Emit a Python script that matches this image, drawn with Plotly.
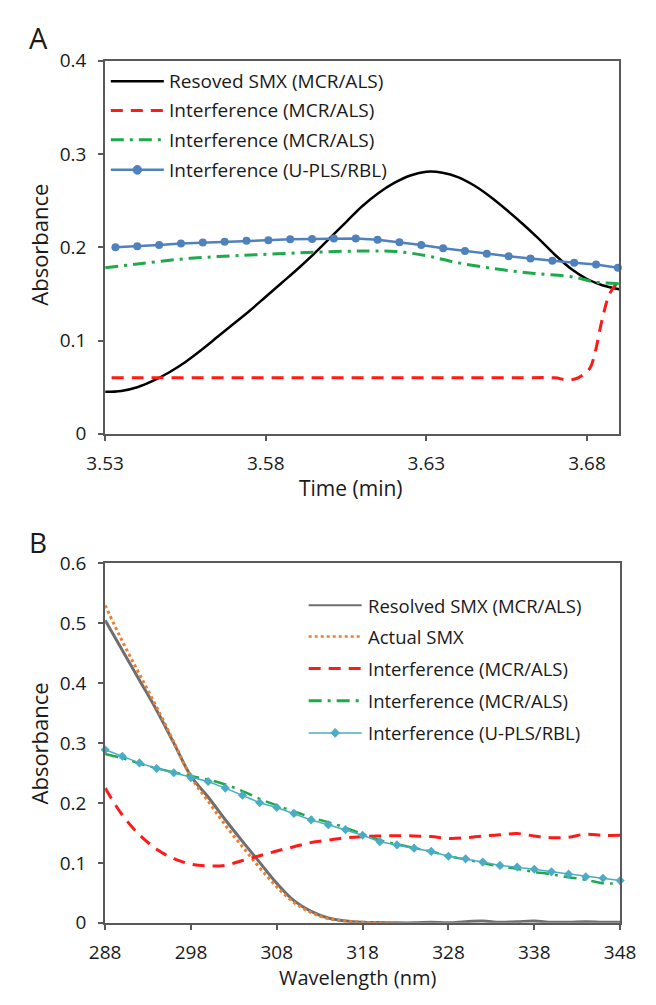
import plotly.graph_objects as go

# ---------------- Panel A: elution profiles ----------------
time_a = [3.530, 3.535, 3.540, 3.545, 3.550, 3.555, 3.560, 3.565, 3.570, 3.575,
          3.580, 3.585, 3.590, 3.595, 3.600, 3.605, 3.610, 3.615, 3.620, 3.625,
          3.630, 3.635, 3.640, 3.645, 3.650, 3.655, 3.660, 3.665, 3.670, 3.675,
          3.680, 3.685, 3.690]
smx_a = [0.045, 0.046, 0.050, 0.057, 0.066, 0.077, 0.090, 0.104, 0.118, 0.132,
         0.147, 0.162, 0.177, 0.193, 0.210, 0.227, 0.244, 0.258, 0.269, 0.277,
         0.281, 0.280, 0.275, 0.266, 0.254, 0.240, 0.225, 0.209, 0.192, 0.177,
         0.166, 0.159, 0.155]

time_red_a = [3.532, 3.540, 3.560, 3.580, 3.600, 3.620, 3.640, 3.660, 3.670,
              3.6735, 3.6765, 3.679, 3.681, 3.6827, 3.6846, 3.687, 3.689]
red_a = [0.060, 0.060, 0.060, 0.060, 0.060, 0.060, 0.060, 0.060, 0.060,
         0.058, 0.059, 0.064, 0.071, 0.090, 0.121, 0.150, 0.160]

time_green_a = [3.530, 3.540, 3.5525, 3.565, 3.577, 3.590, 3.602, 3.612, 3.6204,
                3.630, 3.6389, 3.6512, 3.6636, 3.676, 3.682, 3.690]
green_a = [0.178, 0.182, 0.187, 0.190, 0.192, 0.194, 0.1955, 0.196, 0.1955,
           0.191, 0.184, 0.177, 0.172, 0.168, 0.163, 0.161]

time_blue_a = [3.5332, 3.5400, 3.5468, 3.5536, 3.5604, 3.5672, 3.5740, 3.5808,
               3.5876, 3.5944, 3.6012, 3.6080, 3.6148, 3.6216, 3.6284, 3.6352,
               3.6420, 3.6488, 3.6556, 3.6624, 3.6692, 3.6760, 3.6828, 3.6896]
blue_a = [0.200, 0.201, 0.2025, 0.204, 0.205, 0.206, 0.207, 0.2075,
          0.2085, 0.209, 0.2095, 0.2095, 0.208, 0.2055, 0.2025, 0.199,
          0.196, 0.193, 0.1905, 0.188, 0.1855, 0.1835, 0.1815, 0.178]

ticks_a = [3.53, 3.58, 3.63, 3.68]
tick_text_a = ["3.53", "3.58", "3.63", "3.68"]

# ---------------- Panel B: spectral profiles ----------------
wl = [288, 290, 292, 294, 296, 298, 300, 302, 304, 306, 308, 310, 312, 314, 316,
      318, 320, 322, 324, 326, 328, 330, 332, 334, 336, 338, 340, 342, 344, 346, 348]
smx_b = [0.505, 0.455, 0.405, 0.355, 0.300, 0.245, 0.210, 0.172, 0.136, 0.101,
         0.066, 0.037, 0.019, 0.008, 0.003, 0.001, 0.0005, 0.0, 0.0, 0.001,
         0.0, 0.002, 0.003, 0.001, 0.002, 0.003, 0.001, 0.001, 0.002, 0.001, 0.001]
wl_actual = [288, 290, 292, 294, 296, 298, 300, 302, 304, 306, 308, 310, 312,
             314, 316, 318, 320, 322]
actual_b = [0.530, 0.470, 0.415, 0.360, 0.302, 0.243, 0.203, 0.163, 0.127,
            0.092, 0.060, 0.034, 0.017, 0.007, 0.003, 0.001, 0.0, 0.0]
red_b = [0.225, 0.180, 0.147, 0.123, 0.107, 0.098, 0.095, 0.096, 0.104, 0.112,
         0.120, 0.127, 0.134, 0.138, 0.142, 0.144, 0.145, 0.1455, 0.145, 0.144,
         0.141, 0.142, 0.145, 0.147, 0.149, 0.145, 0.142, 0.143, 0.148, 0.146, 0.146]
green_b = [0.282, 0.275, 0.266, 0.258, 0.251, 0.245, 0.239, 0.231, 0.220, 0.207,
           0.196, 0.186, 0.176, 0.168, 0.159, 0.148, 0.138, 0.131, 0.125, 0.119,
           0.111, 0.106, 0.100, 0.094, 0.090, 0.085, 0.081, 0.076, 0.072, 0.066, 0.066]
blue_b = [0.289, 0.278, 0.267, 0.2575, 0.2504, 0.2423, 0.2358, 0.2249, 0.213,
          0.2005, 0.1924, 0.1827, 0.1718, 0.1637, 0.1556, 0.1463, 0.1355, 0.1301,
          0.1247, 0.1192, 0.1111, 0.1068, 0.1014, 0.0959, 0.0932, 0.0894, 0.0851,
          0.0813, 0.0770, 0.0743, 0.0705]

ticks_b = [288, 298, 308, 318, 328, 338, 348]

legend_a = ["Resoved SMX (MCR/ALS)", "Interference (MCR/ALS)",
            "Interference (MCR/ALS)", "Interference (U-PLS/RBL)"]
legend_b = ["Resolved SMX (MCR/ALS)", "Actual SMX", "Interference (MCR/ALS)",
            "Interference (MCR/ALS)", "Interference (U-PLS/RBL)"]

# ---------------- styling ----------------
W, H = 656, 1005
FONT = "Open Sans"
TXT = "#1a1a1a"
AX = "#595959"

BLACK = "#000000"
RED = "#FF1A1A"
GREEN = "#1EA94B"
BLUE_A = "#4F81BD"
GRAY = "#6E6E6E"
ORANGE = "#ED7D31"
TEAL = "#4BACC6"

RED_DASH = "12px,8px"
GREEN_DASHDOT = "13px,6px,3px,6px"


def px(x):
    return x / W


def py(y):
    return 1 - y / H


fig = go.Figure()

# Panel A traces
fig.add_trace(go.Scatter(x=time_a, y=smx_a, mode="lines", name=legend_a[0],
                         line=dict(color=BLACK, width=2.5, shape="spline"),
                         xaxis="x", yaxis="y"))
fig.add_trace(go.Scatter(x=time_red_a, y=red_a, mode="lines", name=legend_a[1],
                         line=dict(color=RED, width=3, dash=RED_DASH, shape="spline"),
                         xaxis="x", yaxis="y"))
fig.add_trace(go.Scatter(x=time_green_a, y=green_a, mode="lines", name=legend_a[2],
                         line=dict(color=GREEN, width=3, dash=GREEN_DASHDOT, shape="spline"),
                         xaxis="x", yaxis="y"))
fig.add_trace(go.Scatter(x=time_blue_a, y=blue_a, mode="lines+markers", name=legend_a[3],
                         line=dict(color=BLUE_A, width=2.5),
                         marker=dict(color=BLUE_A, size=8, symbol="circle"),
                         cliponaxis=False, xaxis="x", yaxis="y"))

# Panel B traces
fig.add_trace(go.Scatter(x=wl, y=smx_b, mode="lines", name=legend_b[0],
                         line=dict(color=GRAY, width=3, shape="spline"),
                         xaxis="x2", yaxis="y2"))
fig.add_trace(go.Scatter(x=wl_actual, y=actual_b, mode="lines", name=legend_b[1],
                         line=dict(color=ORANGE, width=3, dash="3px,3px", shape="spline"),
                         xaxis="x2", yaxis="y2"))
fig.add_trace(go.Scatter(x=wl, y=red_b, mode="lines", name=legend_b[2],
                         line=dict(color=RED, width=3, dash=RED_DASH, shape="spline"),
                         xaxis="x2", yaxis="y2"))
fig.add_trace(go.Scatter(x=wl, y=green_b, mode="lines", name=legend_b[3],
                         line=dict(color=GREEN, width=2.5, dash=GREEN_DASHDOT, shape="spline"),
                         xaxis="x2", yaxis="y2"))
fig.add_trace(go.Scatter(x=wl, y=blue_b, mode="lines+markers", name=legend_b[4],
                         line=dict(color=TEAL, width=1.5),
                         marker=dict(color=TEAL, size=7, symbol="diamond"),
                         cliponaxis=False, xaxis="x2", yaxis="y2"))

axis_common = dict(showline=True, linecolor=AX, linewidth=2, mirror=True,
                   ticks="outside", ticklen=5, tickcolor=AX, tickwidth=1.5,
                   showgrid=False, zeroline=False,
                   tickfont=dict(family=FONT, size=19, color=TXT))

fig.update_layout(
    width=W, height=H, autosize=False,
    margin=dict(l=0, r=0, t=0, b=0),
    paper_bgcolor="white", plot_bgcolor="white",
    showlegend=False,
    xaxis=dict(domain=[px(91), px(634)], range=[3.53, 3.69], anchor="y",
               tickvals=ticks_a, ticktext=tick_text_a, ticklabelstandoff=6,
               **axis_common),
    yaxis=dict(domain=[py(432), py(49)], range=[0, 0.4], anchor="x",
               tickvals=[0, 0.1, 0.2, 0.3, 0.4],
               ticktext=["0", "0.1", "0.2", "0.3", "0.4"], ticklabelstandoff=8,
               **axis_common),
    xaxis2=dict(domain=[px(91), px(635)], range=[288, 348], anchor="y2",
                tickvals=ticks_b, ticktext=[str(t) for t in ticks_b],
                ticklabelstandoff=6, **axis_common),
    yaxis2=dict(domain=[py(934), py(565)], range=[0, 0.6], anchor="x2",
                tickvals=[0, 0.1, 0.2, 0.3, 0.4, 0.5, 0.6],
                ticktext=["0", "0.1", "0.2", "0.3", "0.4", "0.5", "0.6"],
                ticklabelstandoff=8, **axis_common),
)

annotations = []
shapes = []


def text(x, y, s, size, xanchor="left", angle=0, color=TXT):
    annotations.append(dict(x=px(x), y=py(y), xref="paper", yref="paper", text=s,
                            showarrow=False, xanchor=xanchor, yanchor="middle",
                            textangle=angle,
                            font=dict(family=FONT, size=size, color=color)))


# panel letters and axis titles
text(8, 25, "A", 29)
text(8, 543, "B", 28)
text(351, 488, "Time (min)", 21, xanchor="center")
text(358, 990, "Wavelength (nm)", 20, xanchor="center")
text(21, 238, "Absorbance", 22, xanchor="center", angle=-90)
text(21, 750, "Absorbance", 22, xanchor="center", angle=-90)


def key_line(x0, x1, y, color, width, dash="solid"):
    shapes.append(dict(type="line", xref="paper", yref="paper",
                       x0=px(x0), x1=px(x1), y0=py(y), y1=py(y),
                       line=dict(color=color, width=width, dash=dash)))


# legend, panel A
rows_a = [70, 100, 130, 161]
styles_a = [(BLACK, 2.5, "solid"), (RED, 3, RED_DASH),
            (GREEN, 3, GREEN_DASHDOT), (BLUE_A, 2.5, "solid")]
for label, yy, (c, w, d) in zip(legend_a, rows_a, styles_a):
    key_line(97, 153, yy, c, w, d)
    text(156, yy, label, 19)
r = 4.5
shapes.append(dict(type="circle", xref="paper", yref="paper",
                   x0=px(125 - r), x1=px(125 + r), y0=py(161 + r), y1=py(161 - r),
                   fillcolor=BLUE_A, line=dict(color=BLUE_A, width=1)))

# legend, panel B
rows_b = [608, 640, 673, 706, 739]
styles_b = [(GRAY, 2, "solid"), (ORANGE, 2.5, "3px,3px"), (RED, 3, RED_DASH),
            (GREEN, 3, GREEN_DASHDOT), (TEAL, 1.5, "solid")]
for label, yy, (c, w, d) in zip(legend_b, rows_b, styles_b):
    key_line(306, 362, yy, c, w, d)
    text(367, yy, label, 18.5)
d = 4.5
cx, cy = 334, 739
shapes.append(dict(type="path", xref="paper", yref="paper",
                   path=f"M {px(cx - d)},{py(cy)} L {px(cx)},{py(cy - d)} "
                        f"L {px(cx + d)},{py(cy)} L {px(cx)},{py(cy + d)} Z",
                   fillcolor=TEAL, line=dict(color=TEAL, width=1)))

fig.update_layout(annotations=annotations, shapes=shapes)
fig.write_html("out.html")
